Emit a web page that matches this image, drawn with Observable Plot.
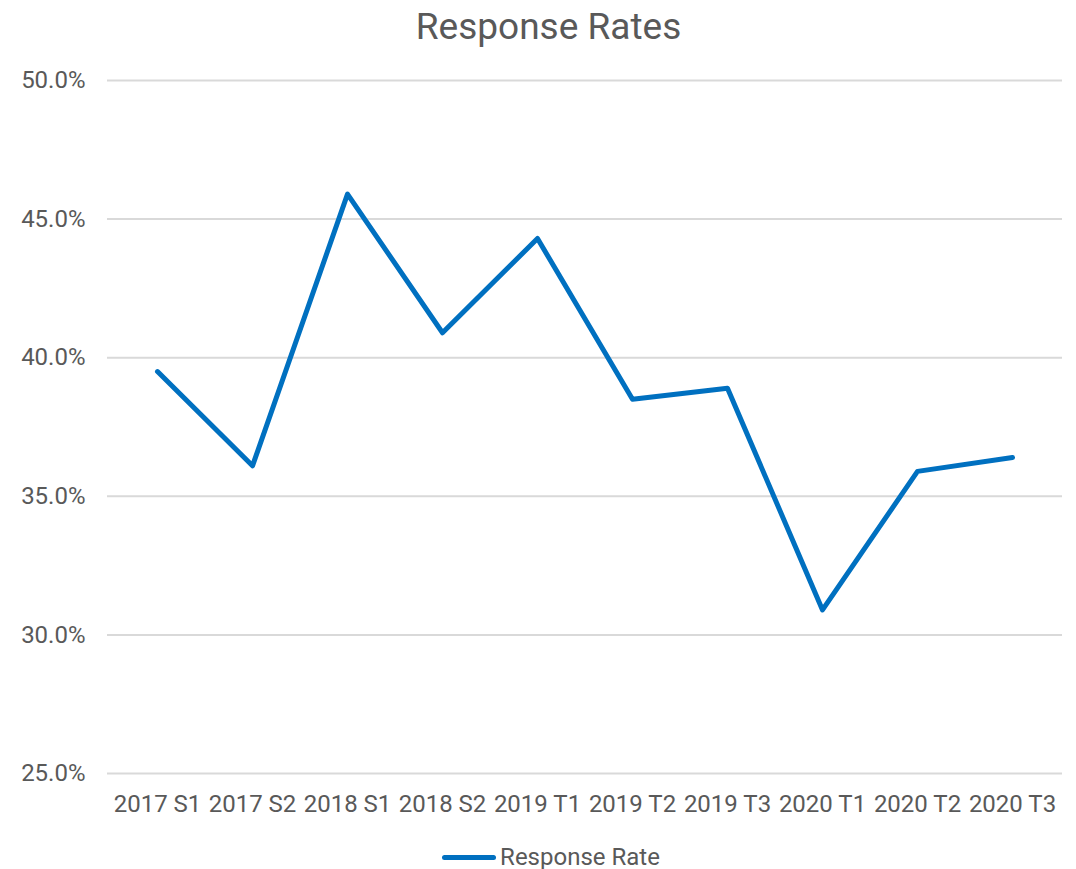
<!DOCTYPE html>
<html>
<head>
<meta charset="utf-8">
<script src="https://cdn.jsdelivr.net/npm/d3@7"></script>
<script src="https://cdn.jsdelivr.net/npm/@observablehq/plot@0.6"></script>
<style>
  html, body { margin: 0; padding: 0; background: #fff; }
  body { width: 1076px; height: 869px; overflow: hidden; font-family: Roboto, sans-serif; color: #595959; }
  #title { height: 55px; line-height: 54px; text-align: center; font-size: 37px; padding-left: 21px; }
  #legend { display: flex; justify-content: center; align-items: center; height: 54px; font-size: 24px; padding-left: 26px; }
  #legend .sw { width: 54px; height: 5px; border-radius: 3px; background: #0070C0; margin-right: 4px; }
</style>
</head>
<body>
<div id="title">Response Rates</div>
<div id="chart"></div>
<div id="legend"><span class="sw"></span><span>Response Rate</span></div>
<script>
const categories = ["2017 S1","2017 S2","2018 S1","2018 S2","2019 T1","2019 T2","2019 T3","2020 T1","2020 T2","2020 T3"];
const responseRate = [39.5, 36.1, 45.9, 40.9, 44.3, 38.5, 38.9, 30.9, 35.9, 36.4];
const yTicks = [25, 30, 35, 40, 45, 50];

const data = categories.map((c, i) => ({term: c, rate: responseRate[i]}));

const chart = Plot.plot({
  width: 1076,
  height: 775,
  marginTop: 25,
  marginBottom: 57,
  marginLeft: 107,
  marginRight: 14,
  style: {fontFamily: "Roboto, sans-serif", fontSize: "24px", color: "#595959", background: "#fff"},
  x: {type: "point", domain: categories, padding: 0.5, label: null, tickSize: 0, tickPadding: 21},
  y: {domain: [25, 50], ticks: yTicks, tickFormat: d => d.toFixed(1) + "%", label: null, tickSize: 0, tickPadding: 22},
  marks: [
    Plot.ruleY(yTicks, {stroke: "#d9d9d9", strokeWidth: 2}),
    Plot.line(data, {x: "term", y: "rate", stroke: "#0070C0", strokeWidth: 5, strokeLinecap: "round", strokeLinejoin: "round"})
  ]
});
document.getElementById("chart").appendChild(chart);
</script>
</body>
</html>
